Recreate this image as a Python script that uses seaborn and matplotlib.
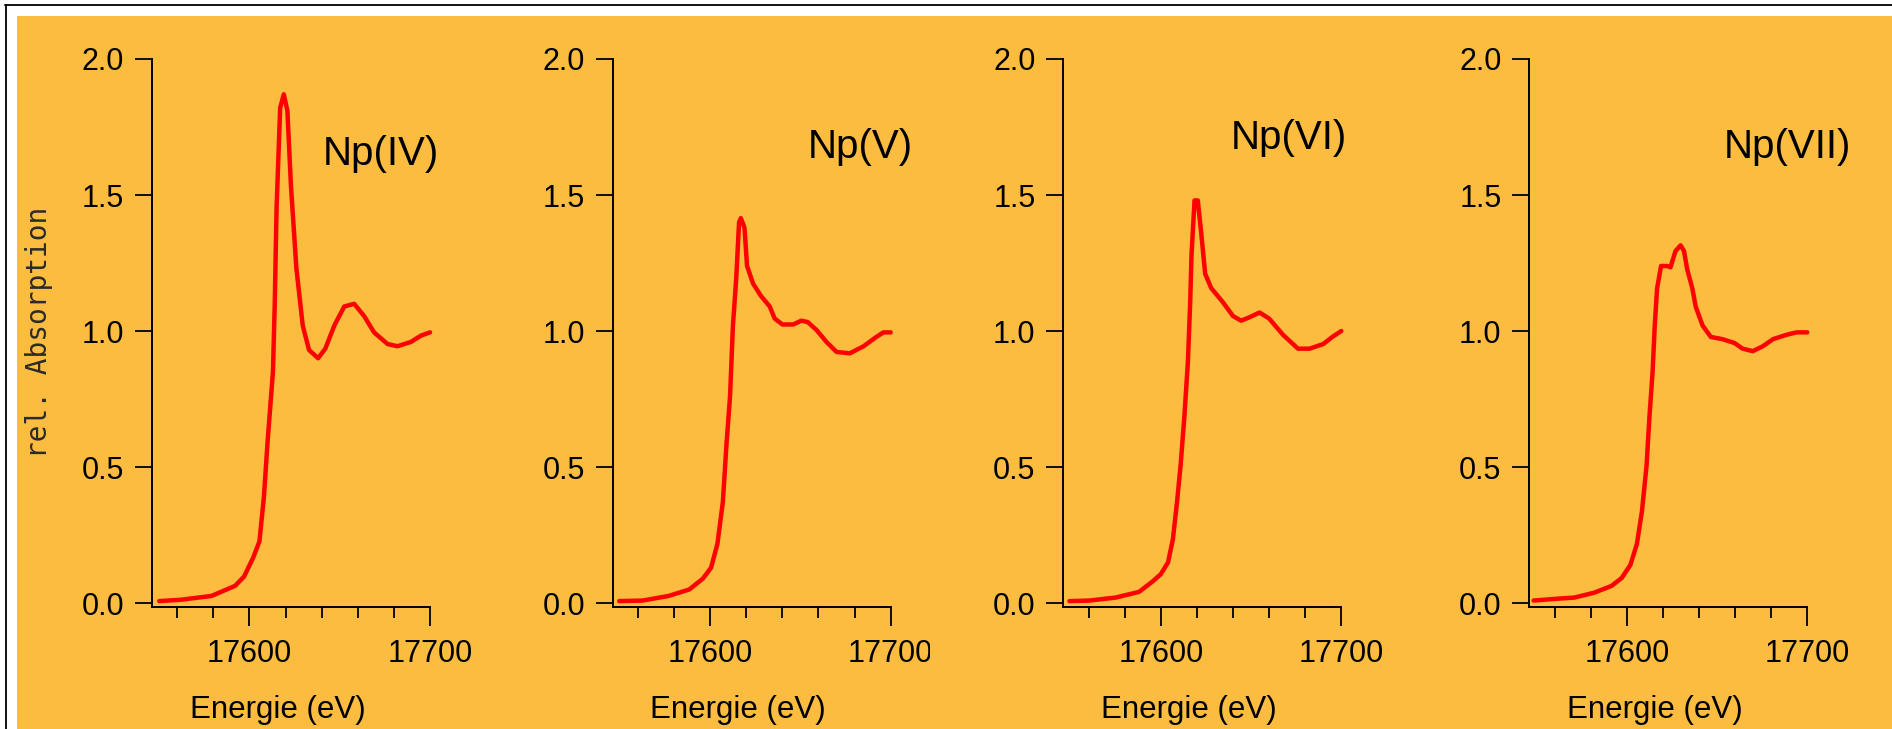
import matplotlib
matplotlib.use("Agg")
import matplotlib.pyplot as plt
import seaborn as sns
import pandas as pd
from matplotlib.patches import Rectangle
from matplotlib.lines import Line2D
from matplotlib.transforms import Bbox, TransformedBbox

# ---------------- data ----------------
labels = ["Np(IV)", "Np(V)", "Np(VI)", "Np(VII)"]

energy_iv = [17550, 17562, 17579, 17592, 17597, 17602, 17605.5, 17608, 17610, 17613, 17614, 17615,
             17617, 17619, 17621, 17623, 17626, 17629.5, 17633, 17638, 17642, 17647, 17652.5, 17658,
             17663.5, 17669, 17676.5, 17682, 17689.5, 17695, 17700]
absorb_iv = [0.007, 0.012, 0.026, 0.063, 0.097, 0.166, 0.226, 0.39, 0.59, 0.85, 1.10, 1.45,
             1.82, 1.87, 1.81, 1.53, 1.23, 1.02, 0.93, 0.90, 0.935, 1.02, 1.09, 1.10,
             1.055, 0.995, 0.952, 0.944, 0.96, 0.983, 0.995]

energy_v = [17549.6, 17562.6, 17577, 17588.5, 17596, 17600.5, 17604, 17607, 17609, 17611, 17612.6,
            17614.4, 17616, 17617, 17619, 17620.4, 17623.7, 17628, 17633, 17635.7, 17640, 17646,
            17650.5, 17654, 17659, 17664.4, 17670, 17677.4, 17685, 17692, 17696, 17700]
absorb_v = [0.007, 0.009, 0.026, 0.05, 0.09, 0.13, 0.217, 0.37, 0.58, 0.76, 1.02,
            1.19, 1.40, 1.415, 1.38, 1.24, 1.175, 1.13, 1.09, 1.046, 1.024, 1.024,
            1.038, 1.033, 1.003, 0.96, 0.923, 0.918, 0.944, 0.978, 0.995, 0.995]

energy_vi = [17549.4, 17560.4, 17575, 17588, 17595.6, 17600, 17604, 17606.7, 17609, 17611, 17613,
             17615, 17616.3, 17617, 17618.7, 17620.5, 17622.4, 17624.6, 17628, 17634.4, 17640,
             17644.5, 17649, 17654.7, 17660, 17667.7, 17676, 17682.4, 17690, 17695, 17700]
absorb_vi = [0.007, 0.009, 0.02, 0.041, 0.08, 0.106, 0.149, 0.234, 0.371, 0.508, 0.679,
             0.884, 1.106, 1.277, 1.48, 1.48, 1.36, 1.21, 1.157, 1.106, 1.055,
             1.038, 1.05, 1.068, 1.046, 0.986, 0.935, 0.935, 0.952, 0.978, 1.0]

energy_vii = [17548.4, 17560, 17571, 17582, 17591.6, 17597.2, 17602, 17605.6, 17608.4, 17611, 17612.5,
              17614.3, 17615.5, 17616.8, 17619, 17622.3, 17624.2, 17627, 17629.8, 17631.7, 17633.5,
              17636.3, 17638.2, 17642, 17646.6, 17653, 17659.6, 17664.2, 17669.8, 17675.4, 17681,
              17688.5, 17694, 17700]
absorb_vii = [0.009, 0.015, 0.02, 0.038, 0.063, 0.092, 0.14, 0.217, 0.337, 0.508, 0.679,
              0.85, 1.02, 1.157, 1.239, 1.239, 1.234, 1.294, 1.315, 1.294, 1.226,
              1.157, 1.089, 1.02, 0.978, 0.97, 0.956, 0.935, 0.926, 0.944, 0.97,
              0.986, 0.995, 0.995]

x_major = [17600, 17700]
x_minor = [17560, 17580, 17620, 17640, 17660, 17680]
y_ticks = [0.0, 0.5, 1.0, 1.5, 2.0]
y_ticklabels = ["0.0", "0.5", "1.0", "1.5", "2.0"]
x_label = "Energie (eV)"
y_label = "rel. Absorption"

series = [(energy_iv, absorb_iv), (energy_v, absorb_v), (energy_vi, absorb_vi), (energy_vii, absorb_vii)]

# ---------------- style ----------------
sns.set_style("ticks")
plt.rcParams["font.family"] = ["Liberation Sans", "DejaVu Sans"]

W, H = 1892, 729
fig = plt.figure(figsize=(W / 100, H / 100), dpi=100)
fig.patch.set_facecolor("white")

ORANGE = "#FBBC40"
fig.add_artist(Rectangle((17 / W, 0), 1 - 17 / W, 1 - 16 / H, transform=fig.transFigure,
                         facecolor=ORANGE, edgecolor="none", zorder=-10))
fig.add_artist(Line2D([5 / W, 1], [1 - 4.5 / H, 1 - 4.5 / H], transform=fig.transFigure,
                      color="black", lw=1.3))
fig.add_artist(Line2D([6 / W, 6 / W], [0, 1 - 4.5 / H], transform=fig.transFigure,
                      color="black", lw=1.3))

# axes placement in pixels
lefts = [152, 612.7, 1063.3, 1529.3]
width_px = 278
top_px, bottom_px = 59, 606.7
label_pos = [(0.823, 0.806), (0.89, 0.819), (0.8125, 0.835), (0.927, 0.819)]
xlabel_x = 0.451

for i, ((xs, ys), lab) in enumerate(zip(series, labels)):
    ax = fig.add_axes([lefts[i] / W, (H - bottom_px) / H, width_px / W, (bottom_px - top_px) / H])
    ax.set_facecolor("none")
    df = pd.DataFrame({"E": xs, "A": ys})
    sns.lineplot(data=df, x="E", y="A", ax=ax, color="#FF0000", linewidth=3.2,
                 estimator=None, sort=True, clip_on=False)
    ax.set_xlim(17546, 17700)
    ax.set_ylim(-0.0136, 2.0)
    for side in ("top", "right"):
        ax.spines[side].set_visible(False)
    for side in ("left", "bottom"):
        ax.spines[side].set_linewidth(1.4)
        ax.spines[side].set_color("black")
    ax.set_yticks(y_ticks)
    ax.set_yticklabels(y_ticklabels)
    ax.set_xticks(x_major)
    ax.set_xticks(x_minor, minor=True)
    ax.tick_params(axis="y", which="major", direction="out", length=12, width=1.3, pad=8,
                   labelsize=22, colors="black")
    ax.tick_params(axis="x", which="major", direction="out", length=14, width=1.3, pad=9,
                   labelsize=22, colors="black")
    ax.tick_params(axis="x", which="minor", direction="out", length=8, width=1.3, colors="black")
    ax.set_xlabel(x_label, fontsize=22.5, color="black")
    ax.xaxis.set_label_coords(xlabel_x, -0.203)
    ax.xaxis.label.set_va("baseline")
    if i == 0:
        ax.set_ylabel(y_label, fontsize=20, family="DejaVu Sans Mono", color="#2a2a2a")
        ax.yaxis.set_label_coords(-0.357, 0.5)
    else:
        ax.set_ylabel("")
    ax.text(label_pos[i][0], label_pos[i][1], lab, transform=ax.transAxes, ha="center",
            va="baseline", fontsize=29, color="black", clip_on=False)
    if i == 1:
        clip = TransformedBbox(Bbox([[0, 0], [930 / W, 1]]), fig.transFigure)
        fig.canvas.draw()
        for t in ax.get_xticklabels():
            t.set_clip_on(True)
            t.set_clip_box(clip)

fig.savefig("out.png", dpi=100, facecolor=fig.get_facecolor())
